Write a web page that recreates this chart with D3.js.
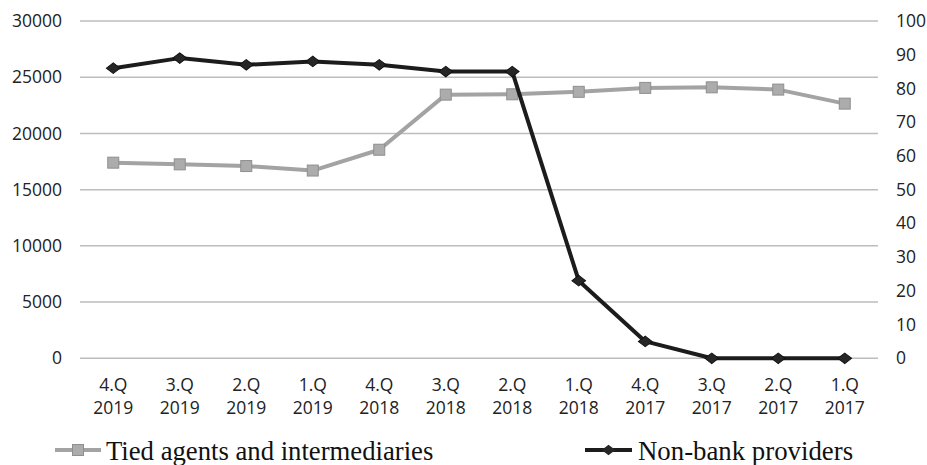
<!DOCTYPE html>
<html><head><meta charset="utf-8">
<script src="https://cdn.jsdelivr.net/npm/d3@7"></script>
<style>body{margin:0;background:#fff}svg{display:block}</style>
</head><body>
<svg id="c" width="927" height="465"></svg>
<script>
const quarters = ["4.Q","3.Q","2.Q","1.Q","4.Q","3.Q","2.Q","1.Q","4.Q","3.Q","2.Q","1.Q"];
const years = ["2019","2019","2019","2019","2018","2018","2018","2018","2017","2017","2017","2017"];
const tiedAgents = [17400,17250,17100,16700,18550,23450,23480,23700,24050,24100,23900,22650];
const nonBank = [86,89,87,88,87,85,85,23,5,0,0,0];
const leftTicks = [0,5000,10000,15000,20000,25000,30000];
const rightTicks = [0,10,20,30,40,50,60,70,80,90,100];
const seriesNames = ["Tied agents and intermediaries","Non-bank providers"];

const svg = d3.select("#c");
const x0 = 80, x1 = 878, yTop = 21, yBot = 358.3;
const idx = d3.range(quarters.length);
const x = d3.scaleBand().domain(idx).range([x0,x1]).padding(0);
const cx = i => x(i) + x.bandwidth()/2;
const yL = d3.scaleLinear().domain([0,30000]).range([yBot,yTop]);
const yR = d3.scaleLinear().domain([0,100]).range([yBot,yTop]);
const axisFont = "'Open Sans', sans-serif";
const axisSize = 17.5;

// gridlines
svg.append("g").selectAll("line").data(leftTicks).join("line")
  .attr("x1",x0).attr("x2",x1).attr("y1",d=>yL(d)).attr("y2",d=>yL(d))
  .attr("stroke","#bdbdbd").attr("stroke-width",1.5);

// left axis
const gl = svg.append("g").attr("transform",`translate(${x0},0)`)
  .call(d3.axisLeft(yL).tickValues(leftTicks).tickSize(0).tickPadding(18).tickFormat(d3.format("d")));
gl.select(".domain").remove();
gl.selectAll("text").attr("font-family",axisFont).attr("font-size",axisSize).attr("fill","#222");

// right axis
const gr = svg.append("g").attr("transform",`translate(${x1},0)`)
  .call(d3.axisRight(yR).tickValues(rightTicks).tickSize(0).tickPadding(18).tickFormat(d3.format("d")));
gr.select(".domain").remove();
gr.selectAll("text").attr("font-family",axisFont).attr("font-size",axisSize).attr("fill","#222");

// x labels
const xl = svg.append("g").selectAll("text").data(idx).join("text")
  .attr("x",d=>cx(d)).attr("text-anchor","middle")
  .attr("font-family",axisFont).attr("font-size",axisSize).attr("fill","#222");
xl.append("tspan").attr("x",d=>cx(d)).attr("y",391).text(d=>quarters[d]);
xl.append("tspan").attr("x",d=>cx(d)).attr("y",414).text(d=>years[d]);

// tied agents line
const grayLine = "#a3a3a3";
svg.append("path").datum(tiedAgents)
  .attr("fill","none").attr("stroke",grayLine).attr("stroke-width",4).attr("stroke-linejoin","round")
  .attr("d",d3.line().x((d,i)=>cx(i)).y(d=>yL(d)));
svg.append("g").selectAll("rect").data(tiedAgents).join("rect")
  .attr("x",(d,i)=>cx(i)-5.5).attr("y",d=>yL(d)-5.5).attr("width",11).attr("height",11)
  .attr("fill","#acacac").attr("stroke","#8f8f8f").attr("stroke-width",1);

// non-bank line
svg.append("path").datum(nonBank)
  .attr("fill","none").attr("stroke","#1c1c1c").attr("stroke-width",4).attr("stroke-linejoin","round")
  .attr("d",d3.line().x((d,i)=>cx(i)).y(d=>yR(d)));
const diamond = d3.symbol().type(d3.symbolSquare).size(56);
svg.append("g").selectAll("path").data(nonBank).join("path")
  .attr("transform",(d,i)=>`translate(${cx(i)},${yR(d)}) scale(1.3,1) rotate(45)`)
  .attr("d",diamond).attr("fill","#262626").attr("stroke","#111").attr("stroke-width",0.8);

// legend
const legFont = "'Liberation Serif', 'Times New Roman', serif";
const lg1 = svg.append("g");
lg1.append("line").attr("x1",55).attr("x2",101).attr("y1",450).attr("y2",450)
  .attr("stroke",grayLine).attr("stroke-width",4);
lg1.append("rect").attr("x",78-5.5).attr("y",450-5.5).attr("width",11).attr("height",11)
  .attr("fill","#acacac").attr("stroke","#8f8f8f");
lg1.append("text").attr("x",106).attr("y",460).attr("font-family",legFont).attr("font-size",26.7)
  .attr("fill","#111").text(seriesNames[0]);
const lg2 = svg.append("g");
lg2.append("line").attr("x1",585).attr("x2",632).attr("y1",450).attr("y2",450)
  .attr("stroke","#1c1c1c").attr("stroke-width",4);
lg2.append("path").attr("transform","translate(608.5,450) scale(1.3,1) rotate(45)").attr("d",diamond)
  .attr("fill","#262626");
lg2.append("text").attr("x",638).attr("y",460).attr("font-family",legFont).attr("font-size",26.8)
  .attr("fill","#111").text(seriesNames[1]);
</script>
</body></html>
